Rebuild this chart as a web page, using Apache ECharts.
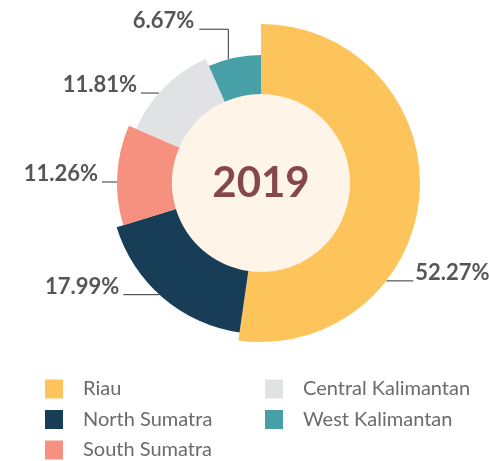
<!DOCTYPE html>
<html>
<head>
<meta charset="utf-8">
<script src="https://cdn.jsdelivr.net/npm/echarts@6/dist/echarts.min.js"></script>
<style>
  html, body { margin: 0; padding: 0; background: #ffffff; }
  #chart { width: 490px; height: 461px; }
</style>
</head>
<body>
<div id="chart"></div>
<script>
// Share of production by province, 2019 (%)
const regions = ['Riau', 'North Sumatra', 'South Sumatra', 'Central Kalimantan', 'West Kalimantan'];
const shares = [52.27, 17.99, 11.26, 11.81, 6.67];
const yearLabel = '2019';

// Styling
const colors = ['#FDC45B', '#173D57', '#F5917E', '#E1E2E4', '#47A0A8'];
const outerRadii = [159, 151, 144, 136, 128];
const CENTER = [261, 183];
const INNER = 89;
const LABEL_FONT = 'Lato, "Open Sans", sans-serif';
const LABEL_DROP = 3;

// Leader line per slice: anchor angle on the ring (degrees clockwise from
// 12 o'clock), an optional vertical rise, then a horizontal run to the label.
const leaders = [
  { angle: 128, rise: 0, run: 27, gap: 2 },
  { angle: 222.3, rise: 0, run: 36, gap: 4 },
  { angle: -89.6, rise: 0, run: 15, gap: 4 },
  { angle: -48.6, rise: 0, run: 18, gap: 4 },
  { angle: -14.8, rise: 30, run: 29, gap: 5 }
];

function placeLabel(params) {
  const i = params.dataIndex;
  const cfg = leaders[i];
  if (!cfg) { return {}; }
  const r = outerRadii[i];
  const a = cfg.angle * Math.PI / 180;
  const p0 = [CENTER[0] + r * Math.sin(a), CENTER[1] - r * Math.cos(a)];
  const side = Math.sin(a) < 0 ? -1 : 1;
  const p1 = [p0[0], p0[1] - cfg.rise];
  const p2 = [p1[0] + side * cfg.run, p1[1]];
  return {
    x: p2[0] + side * cfg.gap,
    y: p2[1] + LABEL_DROP,
    align: side < 0 ? 'right' : 'left',
    verticalAlign: 'bottom',
    labelLinePoints: [p0, p1, p2]
  };
}

// One ring series per province: every series lays out all shares so the
// angles come from the data, but only its own slice is painted.
const ringSeries = regions.map(function (name, k) {
  return {
    type: 'pie',
    center: CENTER,
    radius: [INNER, outerRadii[k]],
    startAngle: 90,
    clockwise: true,
    avoidLabelOverlap: false,
    silent: true,
    z: 2,
    label: {
      show: true,
      position: 'outside',
      formatter: function (p) { return p.value.toFixed(2) + '%'; },
      fontFamily: LABEL_FONT,
      fontWeight: 'bold',
      fontSize: 22,
      lineHeight: 22,
      color: '#555658'
    },
    labelLine: {
      show: true,
      lineStyle: { color: '#333333', width: 1 }
    },
    labelLayout: placeLabel,
    data: regions.map(function (n, j) {
      const own = j === k;
      return {
        name: n,
        value: shares[j],
        itemStyle: { color: own ? colors[j] : 'rgba(0,0,0,0)' },
        label: { show: own },
        labelLine: { show: own }
      };
    })
  };
});

// Cream disc in the middle carrying the year
const centreDisc = {
  type: 'pie',
  center: CENTER,
  radius: [0, INNER],
  silent: true,
  z: 1,
  label: {
    show: true,
    position: 'center',
    formatter: yearLabel,
    fontFamily: LABEL_FONT,
    fontWeight: 'bold',
    fontSize: 42,
    color: '#84474B'
  },
  labelLine: { show: false },
  data: [{ name: 'year', value: 1, itemStyle: { color: '#FEF4E8' } }]
};

const legendText = {
  fontFamily: LABEL_FONT,
  fontSize: 20,
  color: '#6B6B6B',
  padding: [0, 0, 0, 15]
};

function legendData(from, to) {
  return regions.slice(from, to).map(function (n, k) {
    return { name: n, itemStyle: { color: colors[from + k] } };
  });
}

const option = {
  animation: false,
  backgroundColor: '#ffffff',
  legend: [
    {
      orient: 'vertical', left: 45, top: 379, padding: 0,
      icon: 'rect', itemWidth: 18, itemHeight: 19, itemGap: 10.5,
      selectedMode: false, textStyle: legendText,
      data: legendData(0, 3)
    },
    {
      orient: 'vertical', left: 265, top: 379, padding: 0,
      icon: 'rect', itemWidth: 18, itemHeight: 19, itemGap: 10.5,
      selectedMode: false, textStyle: legendText,
      data: legendData(3, 5)
    }
  ],
  series: [centreDisc].concat(ringSeries)
};

const chart = echarts.init(document.getElementById('chart'), null, { renderer: 'canvas' });
chart.setOption(option);
</script>
</body>
</html>
